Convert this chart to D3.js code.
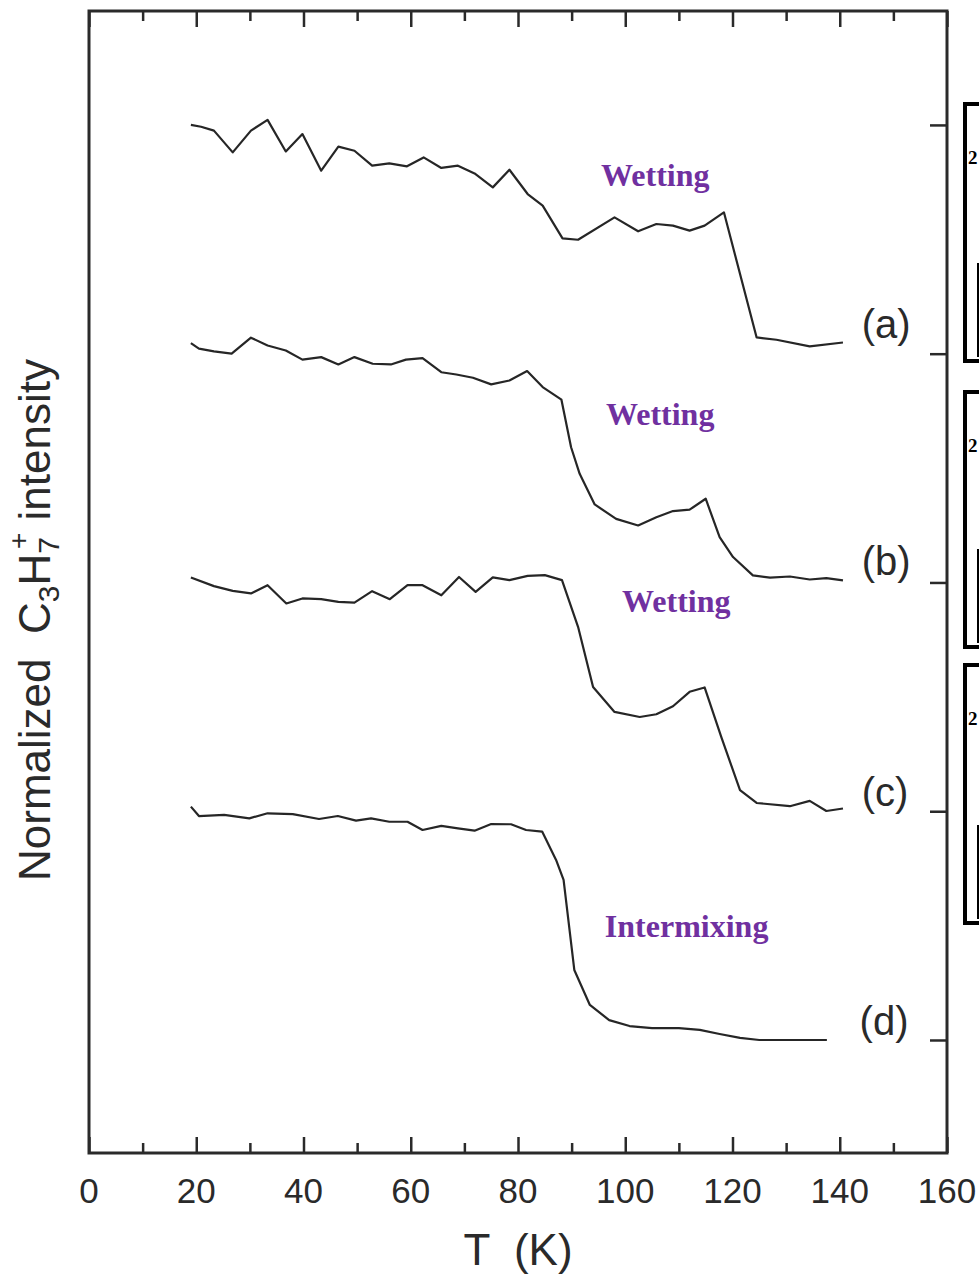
<!DOCTYPE html>
<html>
<head>
<meta charset="utf-8">
<script src="https://cdn.jsdelivr.net/npm/d3@7"></script>
<style>
  body { margin: 0; background: #fff; }
  svg { display: block; }
  .tick-label { font-family: "Liberation Sans", Arial, sans-serif; font-size: 35px; fill: #2a2a2a; }
  .axis-title { font-family: "Liberation Sans", Arial, sans-serif; font-size: 44px; fill: #2a2a2a; }
  .curve-label { font-family: "Liberation Sans", Arial, sans-serif; font-size: 40px; fill: #2a2a2a; }
  .note { font-family: "Liberation Serif", "Times New Roman", serif; font-weight: bold; fill: #7030a0; }
</style>
</head>
<body>
<script>
// normalized intensity vs temperature, each curve shifted by one unit
var curveA = [[19,1.000],[20.9,0.992],[23.3,0.975],[26.8,0.880],[30.2,0.975],[33.3,1.022],[36.7,0.884],[39.8,0.960],[43.3,0.800],[46.5,0.905],[49.5,0.887],[52.8,0.822],[56,0.832],[59.3,0.819],[62.4,0.858],[65.7,0.812],[68.8,0.822],[71.9,0.788],[75.3,0.727],[78.4,0.804],[81.8,0.698],[84.6,0.647],[88.3,0.504],[91.2,0.498],[98,0.596],[102.4,0.535],[105.8,0.567],[108.9,0.560],[112,0.538],[114.8,0.560],[118.4,0.618],[124.5,0.071],[128.2,0.061],[134.4,0.032],[140.6,0.049]];
var curveB = [[19,1.046],[20.5,1.022],[23.3,1.010],[26.6,1.000],[30.2,1.070],[33.3,1.036],[36.7,1.014],[39.8,0.974],[43.3,0.985],[46.5,0.953],[49.5,0.985],[52.9,0.956],[56.3,0.953],[59.1,0.974],[62.2,0.981],[65.7,0.919],[68.5,0.909],[71.6,0.895],[75,0.866],[78.4,0.883],[81.7,0.924],[84.6,0.854],[88.1,0.799],[89.9,0.591],[91.5,0.475],[94.3,0.341],[98.3,0.278],[102.4,0.249],[105.8,0.285],[108.9,0.312],[112,0.318],[115,0.366],[117.6,0.198],[120.1,0.111],[123.8,0.031],[127,0.021],[130.7,0.026],[134.4,0.013],[137.5,0.019],[140.6,0.009]];
var curveC = [[19,1.022],[23.3,0.984],[26.8,0.963],[30.2,0.952],[33.3,0.988],[36.8,0.908],[39.8,0.930],[43.3,0.927],[46.5,0.915],[49.5,0.912],[52.8,0.962],[56.1,0.927],[59.4,0.988],[62.2,0.988],[65.7,0.944],[69,1.024],[72.1,0.959],[75.3,1.022],[78.4,1.010],[81.8,1.029],[85,1.032],[88.2,1.010],[91.2,0.806],[94,0.543],[98,0.434],[102.7,0.412],[105.8,0.424],[108.9,0.459],[112,0.522],[114.8,0.541],[117.9,0.325],[121.4,0.092],[124.5,0.036],[130.7,0.022],[134.4,0.045],[137.5,0.001],[140.6,0.012]];
var curveD = [[19,1.020],[20.5,0.979],[25.2,0.984],[29.9,0.969],[33.3,0.991],[38,0.987],[42.9,0.966],[46.4,0.979],[49.8,0.959],[52.6,0.969],[56,0.954],[59.4,0.954],[62.2,0.918],[65.7,0.936],[68.8,0.925],[71.9,0.915],[75,0.944],[78.7,0.943],[81.5,0.918],[84.5,0.911],[87.1,0.787],[88.5,0.70],[90.5,0.306],[93.4,0.153],[97,0.087],[100.8,0.061],[105,0.052],[110,0.052],[113.9,0.044],[117.6,0.026],[121.4,0.009],[125,0],[132,0],[137.6,0]];

var curveNames = ['(a)', '(b)', '(c)', '(d)'];
var curveOffsets = [3, 2, 1, 0];
var xTicks = [0, 20, 40, 60, 80, 100, 120, 140, 160];
var xMinorTicks = [10, 30, 50, 70, 90, 110, 130, 150];
var yTicks = [0, 1, 2, 3, 4];

// annotations: [T, shifted intensity, text, font size]
var notes = [
  [95.5, 3.733, 'Wetting', 32],
  [96.4, 2.689, 'Wetting', 32],
  [99.4, 1.871, 'Wetting', 32],
  [96.2, 0.450, 'Intermixing', 32]
];
var labelPos = [[144.1, 3.069], [144.1, 2.033], [144.1, 1.023], [143.7, 0.022]];

var W = 979, H = 1274;
var margin = {left: 89, right: 32, top: 11, bottom: 121};

var svg = d3.select('body').append('svg')
    .attr('width', W)
    .attr('height', H);

var x = d3.scaleLinear().domain([0, 160]).range([margin.left, W - margin.right]);
var y = d3.scaleLinear().domain([-0.494, 4.498]).range([H - margin.bottom, margin.top]);

var ink = '#2a2a2a';

// cropped inset frames at the right edge
var insets = [[104, 257], [392, 255], [665, 258]];
insets.forEach(function (b) {
  svg.append('rect')
    .attr('x', 965).attr('y', b[0])
    .attr('width', 40).attr('height', b[1])
    .attr('fill', 'none').attr('stroke', '#000').attr('stroke-width', 4);
  svg.append('text')
    .attr('x', 968).attr('y', b[0] + 60)
    .attr('font-family', 'Liberation Serif, serif')
    .attr('font-weight', 'bold').attr('font-size', 19)
    .text('2');
  svg.append('line')
    .attr('x1', 978).attr('x2', 978)
    .attr('y1', b[0] + b[1] - 98).attr('y2', b[0] + b[1] - 4)
    .attr('stroke', '#000').attr('stroke-width', 2);
});

// bottom and top axes with inward ticks
var axBottom = svg.append('g')
    .attr('transform', 'translate(0,' + y.range()[0] + ')')
    .call(d3.axisTop(x).tickValues(xTicks).tickSize(16).tickFormat(''));
axBottom.append('g').call(d3.axisTop(x).tickValues(xMinorTicks).tickSize(10).tickFormat(''));

var axTop = svg.append('g')
    .attr('transform', 'translate(0,' + y.range()[1] + ')')
    .call(d3.axisBottom(x).tickValues(xTicks).tickSize(16).tickFormat(''));
axTop.append('g').call(d3.axisBottom(x).tickValues(xMinorTicks).tickSize(10).tickFormat(''));

var axRight = svg.append('g')
    .attr('transform', 'translate(' + x.range()[1] + ',0)')
    .call(d3.axisLeft(y).tickValues(yTicks).tickSize(17).tickFormat(''));

svg.selectAll('.domain').remove();
svg.selectAll('.tick line').attr('stroke', ink).attr('stroke-width', 2.5);

// frame
svg.append('rect')
  .attr('x', x.range()[0]).attr('y', y.range()[1])
  .attr('width', x.range()[1] - x.range()[0])
  .attr('height', y.range()[0] - y.range()[1])
  .attr('fill', 'none').attr('stroke', ink).attr('stroke-width', 3);

svg.append('g').selectAll('text')
  .data(xTicks)
  .join('text')
    .attr('class', 'tick-label')
    .attr('x', function (d) { return x(d); })
    .attr('y', 1203)
    .attr('text-anchor', 'middle')
    .text(function (d) { return d; });

svg.append('text')
  .attr('class', 'axis-title')
  .attr('x', x(80))
  .attr('y', 1265)
  .attr('text-anchor', 'middle')
  .attr('xml:space', 'preserve')
  .text('T  (K)');

var yt = svg.append('text')
  .attr('class', 'axis-title')
  .attr('transform', 'translate(50,620) rotate(-90)')
  .attr('text-anchor', 'middle')
  .attr('xml:space', 'preserve');
yt.append('tspan').text('Normalized  C');
yt.append('tspan').attr('font-size', 30).attr('dy', 9).text('3');
yt.append('tspan').attr('dy', -9).text('H');
yt.append('tspan').attr('font-size', 30).attr('dy', 9).text('7');
yt.append('tspan').attr('font-size', 28).attr('dx', -12).attr('dy', -31).text('+');
yt.append('tspan').attr('dy', 22).text(' intensity');

var line = d3.line()
    .x(function (d) { return x(d[0]); })
    .y(function (d) { return y(d[1]); });

[curveA, curveB, curveC, curveD].forEach(function (c, i) {
  var shifted = c.map(function (p) { return [p[0], p[1] + curveOffsets[i]]; });
  svg.append('path')
    .datum(shifted)
    .attr('d', line)
    .attr('fill', 'none')
    .attr('stroke', '#262626')
    .attr('stroke-width', 2.2)
    .attr('stroke-linejoin', 'round');
});

svg.append('g').selectAll('text')
  .data(curveNames)
  .join('text')
    .attr('class', 'curve-label')
    .attr('x', function (d, i) { return x(labelPos[i][0]); })
    .attr('y', function (d, i) { return y(labelPos[i][1]); })
    .text(function (d) { return d; });

svg.append('g').selectAll('text')
  .data(notes)
  .join('text')
    .attr('class', 'note')
    .attr('x', function (d) { return x(d[0]); })
    .attr('y', function (d) { return y(d[1]); })
    .attr('font-size', function (d) { return d[3]; })
    .text(function (d) { return d[2]; });
</script>
</body>
</html>
